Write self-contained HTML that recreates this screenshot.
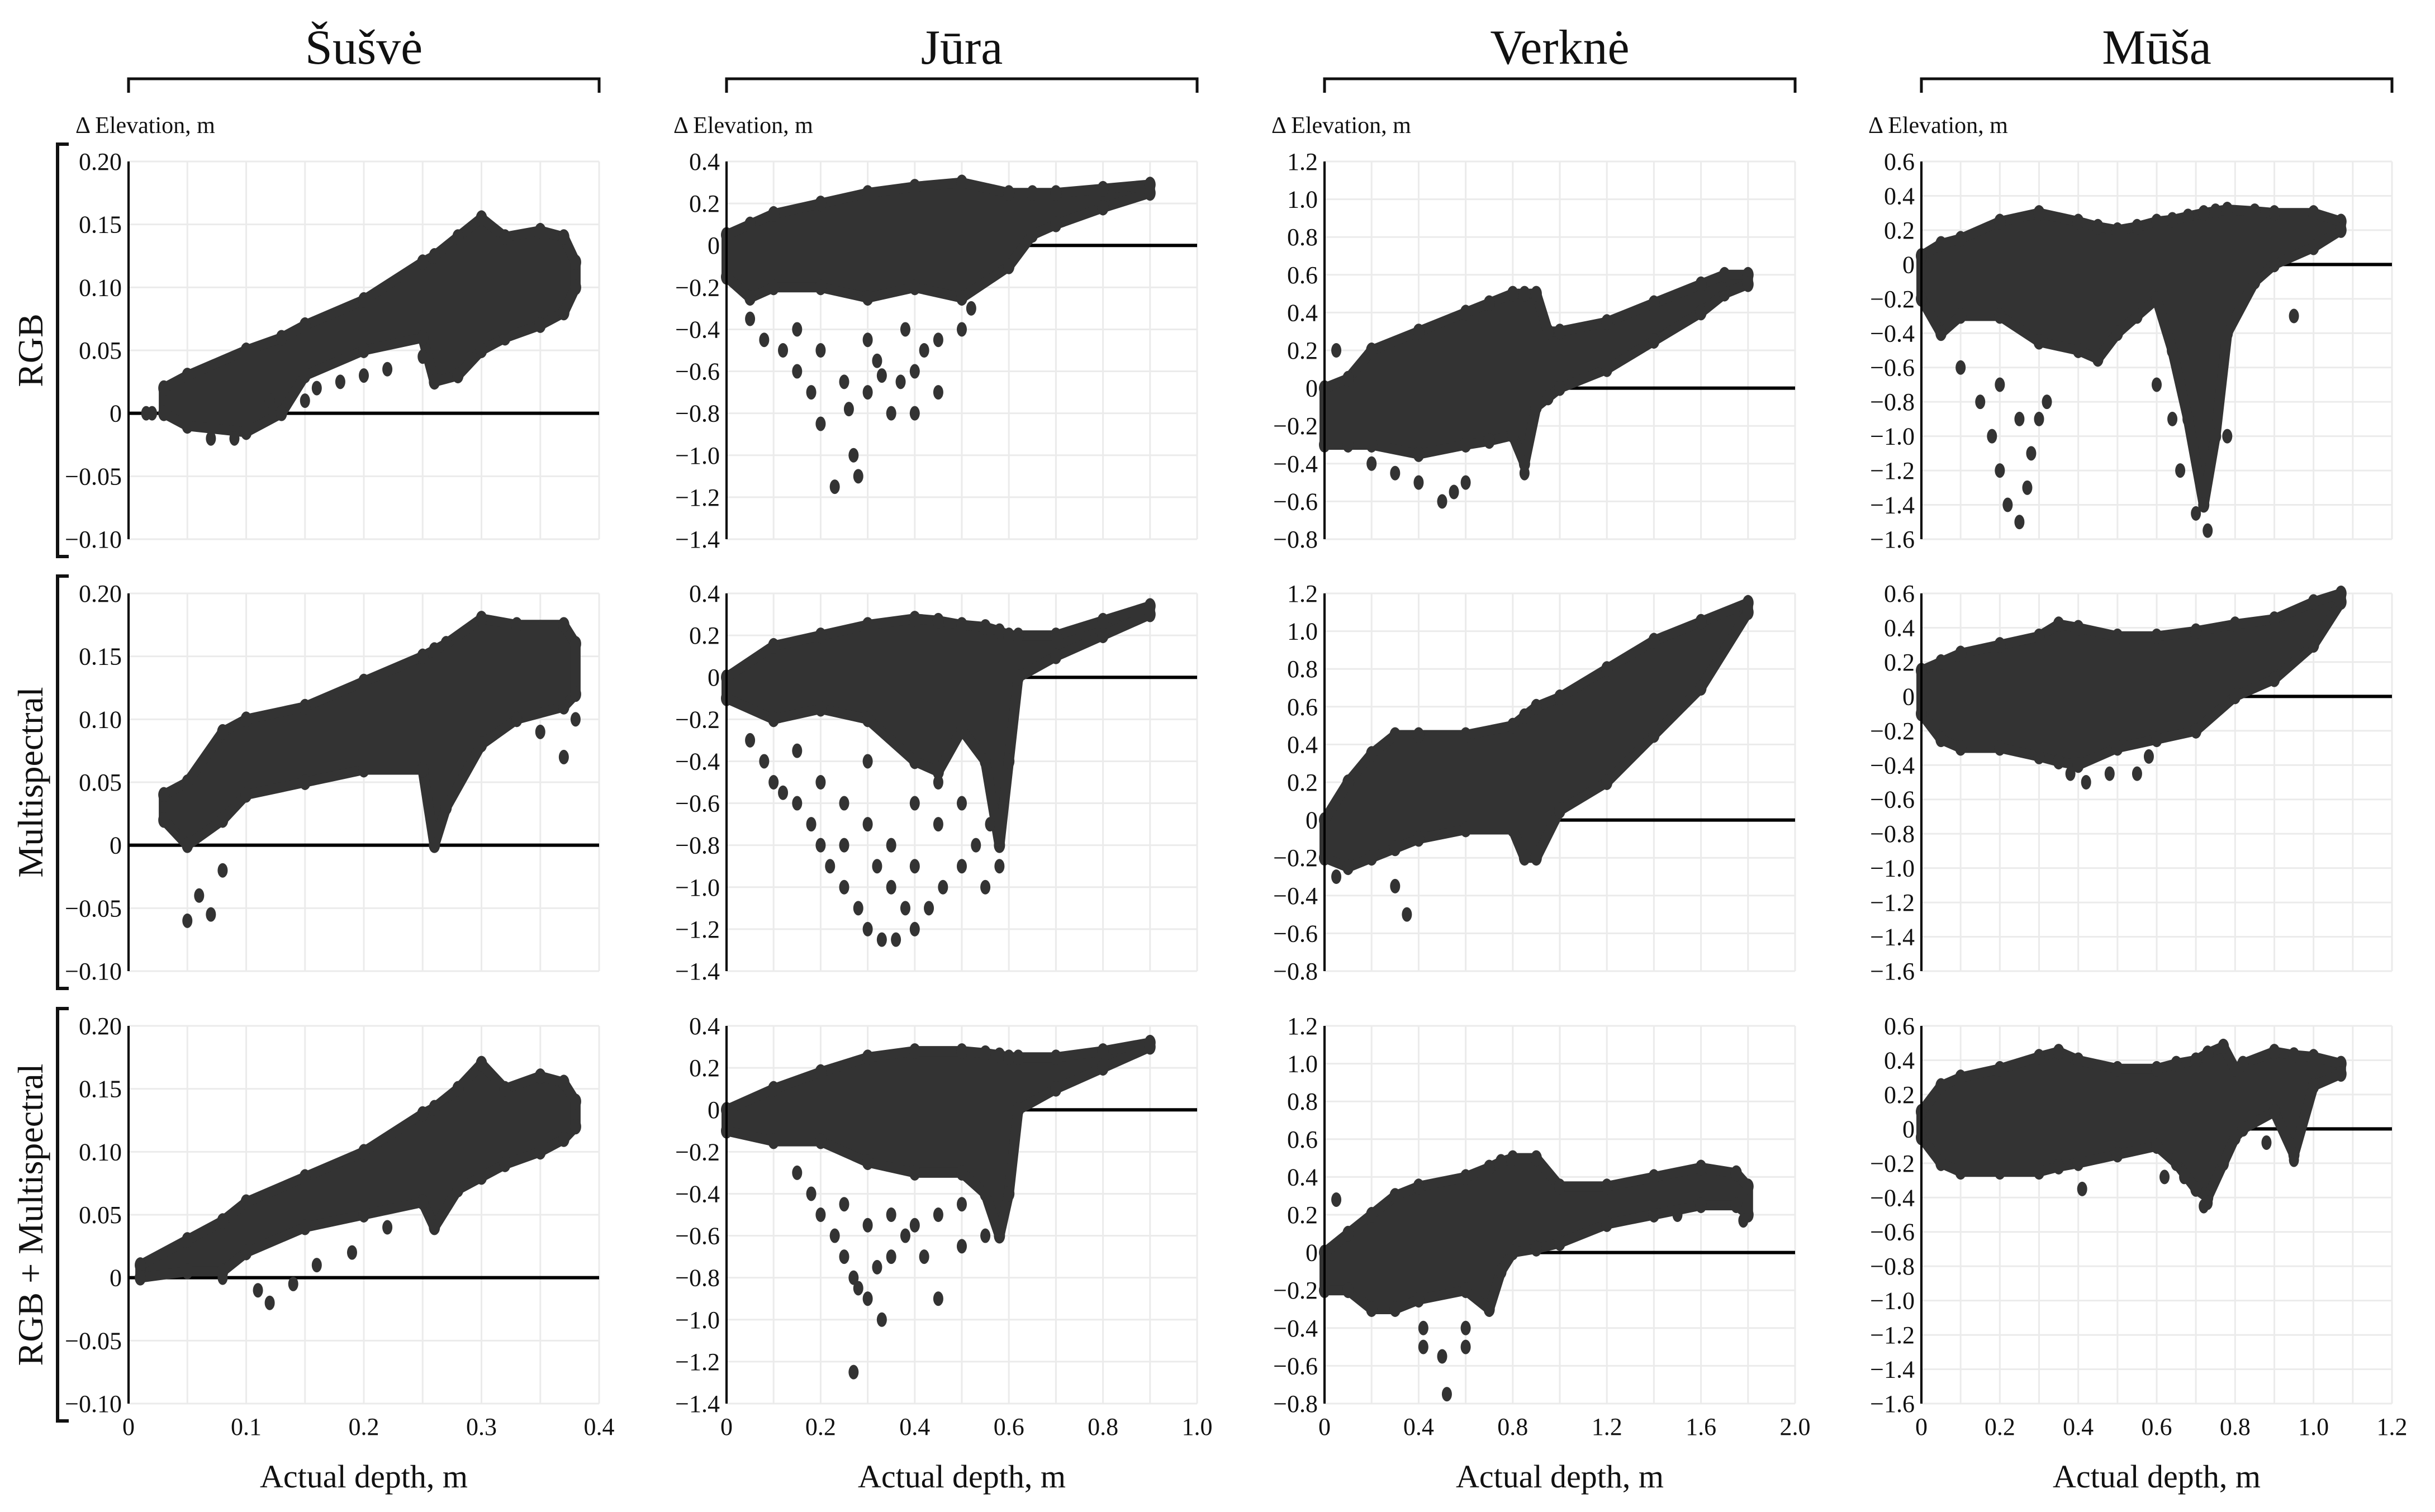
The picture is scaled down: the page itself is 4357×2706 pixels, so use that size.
<!DOCTYPE html>
<html><head><meta charset="utf-8"><style>
html,body{margin:0;padding:0;background:#fff}
svg{display:block}
text{font-family:"Liberation Serif",serif;fill:#111}
</style></head><body>
<svg id="fig" width="4357" height="2706" viewBox="0 0 4357 2706" xmlns="http://www.w3.org/2000/svg"></svg>
<script>
// ---- data ----
const siteNames = ["Šušvė","Jūra","Verknė","Mūša"];
const rowNames = ["RGB","Multispectral","RGB + Multispectral"];
const xMax = [0.4,1.0,2.0,1.2];
const xStep = [0.1,0.2,0.4,0.2];
const xGrid = [0.05,0.1,0.2,0.1];
const yMin = [-0.10,-1.4,-0.8,-1.6];
const yMax = [0.20,0.4,1.2,0.6];
const yStep = [0.05,0.2,0.2,0.2];
const yDec = [2,1,1,1];
const xDec = [1,1,1,1];

// envelopes: [x, upper, lower] per panel (row-major)
const env11 = [[0.03,0.02,0.0],[0.05,0.03,-0.01],[0.1,0.05,-0.015],[0.13,0.06,0.0],[0.15,0.07,0.03],[0.2,0.09,0.05],[0.25,0.12,0.06],[0.26,0.125,0.025],[0.28,0.14,0.03],[0.3,0.155,0.05],[0.32,0.14,0.06],[0.35,0.145,0.07],[0.37,0.14,0.08],[0.38,0.12,0.1]];
const env12 = [[0,0.05,-0.15],[0.05,0.1,-0.25],[0.1,0.15,-0.2],[0.2,0.2,-0.2],[0.3,0.25,-0.25],[0.4,0.28,-0.2],[0.5,0.3,-0.25],[0.6,0.25,-0.1],[0.65,0.25,0.05],[0.7,0.25,0.1],[0.8,0.27,0.18],[0.9,0.29,0.25]];
const env13 = [[0,0.0,-0.3],[0.1,0.05,-0.3],[0.2,0.2,-0.3],[0.4,0.3,-0.35],[0.6,0.4,-0.3],[0.7,0.45,-0.28],[0.8,0.5,-0.25],[0.85,0.5,-0.4],[0.9,0.5,-0.1],[0.95,0.3,-0.05],[1.0,0.3,0.0],[1.2,0.35,0.1],[1.4,0.45,0.25],[1.6,0.55,0.4],[1.7,0.6,0.5],[1.8,0.6,0.55]];
const env14 = [[0,0.05,-0.2],[0.05,0.12,-0.4],[0.1,0.15,-0.3],[0.2,0.25,-0.3],[0.3,0.3,-0.45],[0.4,0.25,-0.5],[0.45,0.22,-0.55],[0.5,0.2,-0.4],[0.55,0.22,-0.3],[0.6,0.25,-0.2],[0.64,0.26,-0.5],[0.68,0.28,-0.9],[0.72,0.3,-1.4],[0.75,0.31,-1.0],[0.78,0.32,-0.4],[0.85,0.31,-0.1],[0.9,0.3,0.0],[1.0,0.3,0.1],[1.07,0.25,0.2]];
const env21 = [[0.03,0.04,0.02],[0.05,0.05,0.0],[0.08,0.09,0.02],[0.1,0.1,0.04],[0.15,0.11,0.05],[0.2,0.13,0.06],[0.25,0.15,0.06],[0.26,0.155,0.0],[0.27,0.16,0.03],[0.3,0.18,0.08],[0.33,0.175,0.1],[0.37,0.175,0.11],[0.38,0.16,0.12]];
const env22 = [[0,0.0,-0.1],[0.1,0.15,-0.2],[0.2,0.2,-0.15],[0.3,0.25,-0.2],[0.4,0.28,-0.4],[0.45,0.27,-0.45],[0.5,0.25,-0.25],[0.55,0.24,-0.4],[0.58,0.22,-0.8],[0.6,0.2,-0.4],[0.62,0.2,0.0],[0.7,0.2,0.1],[0.8,0.27,0.2],[0.9,0.34,0.3]];
const env23 = [[0,0.0,-0.2],[0.1,0.2,-0.25],[0.2,0.35,-0.2],[0.3,0.45,-0.15],[0.4,0.45,-0.1],[0.6,0.45,-0.05],[0.8,0.5,-0.05],[0.85,0.55,-0.2],[0.9,0.6,-0.2],[1.0,0.65,0.05],[1.2,0.8,0.2],[1.4,0.95,0.45],[1.6,1.05,0.7],[1.8,1.15,1.1]];
const env24 = [[0,0.15,-0.1],[0.05,0.2,-0.25],[0.1,0.25,-0.3],[0.2,0.3,-0.3],[0.3,0.35,-0.35],[0.35,0.42,-0.38],[0.4,0.4,-0.4],[0.5,0.35,-0.3],[0.6,0.35,-0.25],[0.7,0.38,-0.2],[0.8,0.42,0.0],[0.9,0.45,0.1],[1.0,0.55,0.3],[1.07,0.6,0.55]];
const env31 = [[0.01,0.01,0.0],[0.05,0.03,0.005],[0.08,0.045,0.005],[0.1,0.06,0.02],[0.15,0.08,0.04],[0.2,0.1,0.05],[0.25,0.13,0.06],[0.26,0.135,0.04],[0.28,0.15,0.07],[0.3,0.17,0.08],[0.32,0.15,0.09],[0.35,0.16,0.1],[0.37,0.155,0.11],[0.38,0.14,0.12]];
const env32 = [[0,0.0,-0.1],[0.1,0.1,-0.15],[0.2,0.18,-0.15],[0.3,0.25,-0.25],[0.4,0.28,-0.3],[0.5,0.28,-0.3],[0.55,0.27,-0.4],[0.58,0.26,-0.6],[0.6,0.25,-0.4],[0.62,0.25,0.0],[0.7,0.25,0.1],[0.8,0.28,0.2],[0.9,0.32,0.3]];
const env33 = [[0,0.0,-0.2],[0.1,0.1,-0.2],[0.2,0.2,-0.3],[0.3,0.3,-0.3],[0.4,0.35,-0.25],[0.6,0.4,-0.2],[0.7,0.45,-0.3],[0.75,0.48,-0.1],[0.8,0.5,0.0],[0.9,0.5,0.02],[1.0,0.35,0.05],[1.2,0.35,0.15],[1.4,0.4,0.2],[1.6,0.45,0.25],[1.75,0.42,0.25],[1.8,0.35,0.2]];
const env34 = [[0,0.1,-0.05],[0.05,0.25,-0.2],[0.1,0.3,-0.25],[0.2,0.35,-0.25],[0.3,0.42,-0.25],[0.35,0.45,-0.22],[0.4,0.4,-0.2],[0.5,0.35,-0.15],[0.6,0.35,-0.1],[0.65,0.38,-0.2],[0.7,0.4,-0.35],[0.73,0.44,-0.4],[0.77,0.48,-0.2],[0.8,0.35,-0.05],[0.82,0.38,0.0],[0.9,0.45,0.1],[0.95,0.43,-0.15],[1.0,0.42,0.25],[1.07,0.38,0.32]];

// outlier points [x,y]
const out11 = [[0.015,0],[0.02,0],[0.07,-0.02],[0.09,-0.02],[0.12,0.01],[0.15,0.01],[0.16,0.02],[0.18,0.025],[0.2,0.03],[0.22,0.035],[0.25,0.045]];
const out12 = [[0.05,-0.35],[0.08,-0.45],[0.12,-0.5],[0.15,-0.6],[0.18,-0.7],[0.2,-0.85],[0.23,-1.15],[0.25,-0.65],[0.27,-1.0],[0.28,-1.1],[0.3,-0.7],[0.32,-0.55],[0.35,-0.8],[0.37,-0.65],[0.4,-0.6],[0.42,-0.5],[0.45,-0.45],[0.5,-0.4],[0.52,-0.3],[0.3,-0.45],[0.2,-0.5],[0.15,-0.4],[0.38,-0.4],[0.26,-0.78],[0.33,-0.62],[0.4,-0.8],[0.45,-0.7]];
const out13 = [[0.05,0.2],[0.3,-0.45],[0.4,-0.5],[0.5,-0.6],[0.55,-0.55],[0.6,-0.5],[0.85,-0.45],[0.2,-0.4]];
const out14 = [[0.1,-0.6],[0.15,-0.8],[0.18,-1.0],[0.2,-1.2],[0.22,-1.4],[0.25,-1.5],[0.27,-1.3],[0.28,-1.1],[0.3,-0.9],[0.32,-0.8],[0.25,-0.9],[0.2,-0.7],[0.73,-1.55],[0.7,-1.45],[0.66,-1.2],[0.64,-0.9],[0.78,-1.0],[0.6,-0.7],[0.95,-0.3]];
const out21 = [[0.05,-0.06],[0.07,-0.055],[0.06,-0.04],[0.37,0.07],[0.38,0.1],[0.35,0.09],[0.33,0.1],[0.03,0.04],[0.08,-0.02]];
const out22 = [[0.05,-0.3],[0.08,-0.4],[0.1,-0.5],[0.12,-0.55],[0.15,-0.6],[0.18,-0.7],[0.2,-0.8],[0.22,-0.9],[0.25,-1.0],[0.28,-1.1],[0.3,-1.2],[0.33,-1.25],[0.36,-1.25],[0.4,-1.2],[0.43,-1.1],[0.46,-1.0],[0.5,-0.9],[0.53,-0.8],[0.56,-0.7],[0.2,-0.5],[0.25,-0.6],[0.3,-0.7],[0.35,-0.8],[0.4,-0.9],[0.45,-0.7],[0.5,-0.6],[0.3,-0.4],[0.35,-1.0],[0.25,-0.8],[0.4,-0.6],[0.38,-1.1],[0.15,-0.35],[0.45,-0.5],[0.55,-1.0],[0.58,-0.9],[0.32,-0.9]];
const out23 = [[0.3,-0.35],[0.35,-0.5],[0.05,-0.3]];
const out24 = [[0.38,-0.45],[0.42,-0.5],[0.48,-0.45],[0.55,-0.45],[0.58,-0.35]];
const out31 = [[0.12,-0.02],[0.11,-0.01],[0.14,-0.005],[0.16,0.01],[0.19,0.02],[0.22,0.04],[0.08,0.0]];
const out32 = [[0.15,-0.3],[0.18,-0.4],[0.2,-0.5],[0.23,-0.6],[0.25,-0.7],[0.27,-0.8],[0.28,-0.85],[0.3,-0.9],[0.32,-0.75],[0.35,-0.7],[0.38,-0.6],[0.4,-0.55],[0.45,-0.5],[0.5,-0.45],[0.55,-0.6],[0.3,-0.55],[0.25,-0.45],[0.35,-0.5],[0.27,-1.25],[0.33,-1.0],[0.45,-0.9],[0.42,-0.7],[0.5,-0.65]];
const out33 = [[0.05,0.28],[0.42,-0.4],[0.42,-0.5],[0.5,-0.55],[0.52,-0.75],[0.6,-0.4],[0.6,-0.5],[1.78,0.17],[1.5,0.2]];
const out34 = [[0.41,-0.35],[0.62,-0.28],[0.67,-0.28],[0.72,-0.45],[0.73,-0.43],[0.88,-0.08],[0.95,-0.18]];

const envs = [[env11,env12,env13,env14],[env21,env22,env23,env24],[env31,env32,env33,env34]];
const outs = [[out11,out12,out13,out14],[out21,out22,out23,out24],[out31,out32,out33,out34]];

// ---- layout ----
const NS="http://www.w3.org/2000/svg";
const svg=document.getElementById('fig');
const colLeft=[230,1300,2370,3438], plotW=842;
const rowTop=[289,1062,1836], plotH=676;
function mk(tag,attrs,parent){const e=document.createElementNS(NS,tag);for(const k in attrs)e.setAttribute(k,attrs[k]);(parent||svg).appendChild(e);return e;}
function fmt(v,d){if(Math.abs(v)<1e-9)return "0";const s=Math.abs(v).toFixed(d);return (v<0?"\u2212":"")+s;}

// column headers
for(let c=0;c<4;c++){
  const L=colLeft[c],R=L+plotW;
  const t=mk('text',{x:(L+R)/2,y:114,'text-anchor':'middle','font-size':88});
  t.textContent=siteNames[c];
  
  
  const b=mk('path',{d:`M${L},166 V141 H${R} V166`,fill:'none',stroke:'#111','stroke-width':5});
  
  
  const e=mk('text',{x:L-95,y:238,'font-size':42});
  e.textContent="\u0394 Elevation, m";
  
  
  const a=mk('text',{x:(L+R)/2,y:2662,'text-anchor':'middle','font-size':58});
  a.textContent="Actual depth, m";
  
  
}
// row labels
for(let r=0;r<3;r++){
  const T=rowTop[r],B=T+plotH,cy=(T+B)/2;
  const t=mk('text',{x:0,y:0,'text-anchor':'middle','font-size':64,transform:`translate(76,${cy}) rotate(-90)`});
  t.textContent=rowNames[r];
  
  
  const b=mk('path',{d:`M123,${T-31} H103 V${B+31} H123`,fill:'none',stroke:'#111','stroke-width':6});
  
  
}
// panels
for(let r=0;r<3;r++)for(let c=0;c<4;c++){
  const L=colLeft[c],T=rowTop[r];
  const xs=v=>L+v/xMax[c]*plotW;
  const ys=v=>T+(yMax[c]-v)/(yMax[c]-yMin[c])*plotH;
  const g=mk('g',{});
  
  
  const nx=Math.round(xMax[c]/xGrid[c]);
  for(let i=1;i<=nx;i++){mk('line',{x1:xs(i*xGrid[c]),x2:xs(i*xGrid[c]),y1:T,y2:T+plotH,stroke:'#ebebeb','stroke-width':3},g);}
  const ny=Math.round((yMax[c]-yMin[c])/yStep[c]);
  for(let i=0;i<=ny;i++){
    const v=yMin[c]+i*yStep[c];
    mk('line',{x1:L,x2:L+plotW,y1:ys(v),y2:ys(v),stroke:'#ebebeb','stroke-width':3},g);
    const t=mk('text',{x:L-12,y:ys(v)+15,'text-anchor':'end','font-size':44},g);
    t.textContent=fmt(v,yDec[c]);
    
    
  }
  if(r===2){
    const n=Math.round(xMax[c]/xStep[c]);
    for(let i=0;i<=n;i++){
      const v=i*xStep[c];
      const t=mk('text',{x:xs(v),y:2568,'text-anchor':'middle','font-size':44},g);
      t.textContent=fmt(v,xDec[c]);
      
      
    }
  }
  const z=mk('line',{x1:L,x2:L+plotW,y1:ys(0),y2:ys(0),stroke:'#000','stroke-width':6},g);
  
  
  const env=envs[r][c];
  let d='';
  env.forEach((p,i)=>{d+=(i?'L':'M')+xs(p[0]).toFixed(1)+','+ys(p[1]).toFixed(1);});
  for(let i=env.length-1;i>=0;i--){d+='L'+xs(env[i][0]).toFixed(1)+','+ys(env[i][2]).toFixed(1);}
  const m=mk('path',{d:d+'Z',fill:'#333',stroke:'#333','stroke-width':18,'stroke-linejoin':'round'},g);
  
  
  env.forEach(p=>{
    for(const v of [p[1],p[2]]){
      const e=mk('ellipse',{cx:xs(p[0]),cy:ys(v),rx:10,ry:14,fill:'#333'},g);
      
      
    }
  });
  outs[r][c].forEach(p=>{
    const e=mk('ellipse',{cx:xs(p[0]),cy:ys(p[1]),rx:9,ry:13,fill:'#333'},g);
    
    
  });
  const ax=mk('line',{x1:L,x2:L,y1:T,y2:T+plotH,stroke:'#000','stroke-width':4},g);
  
  
}
</script>
</body></html>
